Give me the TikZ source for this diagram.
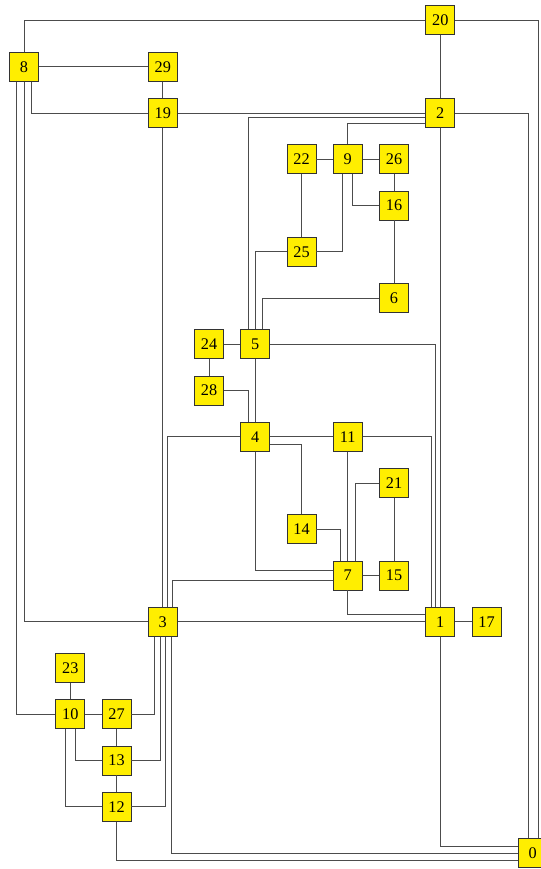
\documentclass[tikz,border=0pt]{standalone}
\usepackage{fontspec}
\setmainfont{Liberation Serif}
\usetikzlibrary{calc}
\definecolor{boxYellow}{RGB}{255,238,0}

\begin{document}
\begin{tikzpicture}[x=1cm, y=-1cm,
    vertex/.style={draw=black!80, line width=0.6pt, fill=boxYellow, rectangle,
        minimum width=0.627cm, minimum height=0.627cm, inner sep=0pt,
        font=\fontsize{10}{12}\selectfont},
    wire/.style={draw=black!70, line width=0.6pt}]
    \useasboundingbox (-0.519,-0.443) rectangle (11.157,18.346);
    % Syntax: name/column/row, one grid step per column and row
    \foreach \n/\c/\r in {0/11/18, 1/9/13, 2/9/2, 3/3/13, 4/5/9, 5/5/7, 6/8/6,
        7/7/12, 8/0/1, 9/7/3, 10/1/15, 11/7/9, 12/2/17, 13/2/16, 14/6/11,
        15/8/12, 16/8/4, 17/10/13, 19/3/2, 20/9/0, 21/8/10, 22/6/3, 23/1/14,
        24/4/7, 25/6/5, 26/8/3, 27/2/15, 28/4/8, 29/3/1}
        \node[vertex] (n\n) at (\c,\r) {\n};
    % top part
    \draw[wire] (n8.north) |- (n20);
    \draw[wire] (n20) -| ($(n0.north)+(0.119,0)$);
    \draw[wire] (n20) -- (n2);
    \draw[wire] (n8) -- (n29);
    \draw[wire] (n29) -- (n19);
    \draw[wire] ($(n8.south)+(0.158,0)$) |- (n19);
    \draw[wire] (n19) -- (n2);
    \draw[wire] ($(n2.west)+(0,0.1)$) -| ($(n5.north)+(-0.156,0)$);
    \draw[wire] ($(n2.west)+(0,0.227)$) -| (n9);
    \draw[wire] (n2) -| ($(n0.north)+(-0.097,0)$);
    \draw[wire] (n2) -- (n1);
    \draw[wire] (n22) -- (n9);
    \draw[wire] (n9) -- (n26);
    \draw[wire] (n26) -- (n16);
    \draw[wire] ($(n9.south)+(0.106,0)$) |- (n16);
    \draw[wire] (n22) -- (n25);
    \draw[wire] ($(n9.south)+(-0.104,0)$) |- (n25);
    \draw[wire] (n25) -| (n5);
    \draw[wire] (n16) -- (n6);
    \draw[wire] (n6) -| ($(n5.north)+(0.15,0)$);
    % middle part
    \draw[wire] (n24) -- (n5);
    \draw[wire] (n24) -- (n28);
    \draw[wire] (n5) -- (n4);
    \draw[wire] (n28) -| ($(n4.north)+(-0.156,0)$);
    \draw[wire] (n5) -| ($(n1.north)+(-0.098,0)$);
    \draw[wire] (n4) -| ($(n3.north)+(0.1,0)$);
    \draw[wire] (n4) -- (n11);
    \draw[wire] ($(n4.east)+(0,0.158)$) -| (n14);
    \draw[wire] (n4) |- ($(n7.west)+(0,-0.1)$);
    \draw[wire] (n11) -| ($(n1.north)+(-0.2,0)$);
    \draw[wire] (n11) -- (n7);
    \draw[wire] (n14) -| ($(n7.north)+(-0.152,0)$);
    \draw[wire] (n21) -| ($(n7.north)+(0.163,0)$);
    \draw[wire] (n21) -- (n15);
    \draw[wire] (n7) -- (n15);
    \draw[wire] ($(n7.west)+(0,0.11)$) -| ($(n3.north)+(0.216,0)$);
    \draw[wire] (n7) |- ($(n1.west)+(0,-0.162)$);
    \draw[wire] (n3) -- (n1);
    \draw[wire] (n1) -- (n17);
    \draw[wire] (n1) |- ($(n0.west)+(0,-0.15)$);
    % left and bottom part
    \draw[wire] (n19) -- (n3);
    \draw[wire] (n8) |- (n3);
    \draw[wire] ($(n8.south)+(-0.158,0)$) |- (n10);
    \draw[wire] ($(n3.south)+(-0.182,0)$) |- (n27);
    \draw[wire] ($(n3.south)+(-0.052,0)$) |- (n13);
    \draw[wire] ($(n3.south)+(0.065,0)$) |- (n12);
    \draw[wire] ($(n3.south)+(0.194,0)$) |- (n0);
    \draw[wire] (n23) -- (n10);
    \draw[wire] (n10) -- (n27);
    \draw[wire] ($(n10.south)+(0.109,0)$) |- (n13);
    \draw[wire] ($(n10.south)+(-0.098,0)$) |- (n12);
    \draw[wire] (n27) -- (n13);
    \draw[wire] (n13) -- (n12);
    \draw[wire] (n12) |- ($(n0.west)+(0,0.157)$);
\end{tikzpicture}
\end{document}
